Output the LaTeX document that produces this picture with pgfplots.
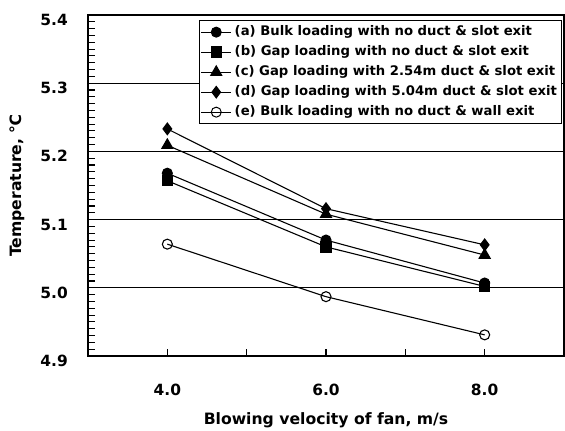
\documentclass[border=0pt]{standalone}
\usepackage{pgfplots}
\pgfplotsset{compat=1.18}
\usepackage{fontspec}
\setmainfont{DejaVu Sans}
\begin{document}
\begin{tikzpicture}
\begin{axis}[
  name=ax,
  scale only axis, width=476bp, height=341bp,
  xmin=3, xmax=9, ymin=4.9, ymax=5.4,
  xtick={4,5,6,7,8}, xticklabels={4.0,,6.0,,8.0},
  ytick={4.9,5.0,5.1,5.2,5.3,5.4},
  yticklabels={4.9,5.0,5.1,5.2,5.3,5.4},
  minor y tick num=9,
  xtick align=inside, ytick align=inside,
  xtick pos=bottom, ytick pos=left,
  major tick length=7.5bp, minor tick length=6.5bp,
  every tick/.style={black, line width=1.1pt},
  ymajorgrids, grid style={black, line width=1.1pt},
  axis line style={line width=1.5pt},
  /pgf/number format/assume math mode=true,
  ticklabel style={font=\bfseries\fontsize{15.5}{17}\selectfont, inner sep=0pt},
  yticklabel style={anchor=base east, xshift=-20bp, yshift=-10.5bp},
  xticklabel style={anchor=base, yshift=-39bp},
  xlabel={Blowing velocity of fan, m/s},
  ylabel={Temperature, ℃},
  label style={font=\bfseries\fontsize{15.7}{17}\selectfont},
  xlabel style={at={(axis description cs:0.5,-0.1994)}, anchor=base},
  ylabel style={at={(axis description cs:-0.1492,0.5)}, anchor=center},
  legend style={at={(0.9958,0.9853)}, anchor=north east, draw=black, line width=1.3pt,
    font=\bfseries\fontsize{13.25}{15}\selectfont, row sep=0pt, inner sep=1.5bp,
    nodes={inner sep=3bp, text height=10.5bp, text depth=3.5bp},
    cells={anchor=west}},
  legend image code/.code={\draw[mark repeat=2,mark phase=2,line width=1pt] plot coordinates {(0bp,0bp)(15bp,0bp)(30bp,0bp)};},
  every axis plot/.append style={black, line width=1.1pt},
]
\addplot[mark=*, mark size=5bp] coordinates {(4,5.168) (6,5.070) (8,5.007)};
\addlegendentry{(a) Bulk loading with no duct \& slot exit}
\addplot[mark=square*, mark size=5.2bp] coordinates {(4,5.157) (6,5.060) (8,5.002)};
\addlegendentry{(b) Gap loading with no duct \& slot exit}
\addplot[mark=triangle*, mark size=6.3bp] coordinates {(4,5.209) (6,5.108) (8,5.048)};
\addlegendentry{(c) Gap loading with 2.54m duct \& slot exit}
\addplot[mark=diamond*, mark size=5.8bp] coordinates {(4,5.233) (6,5.116) (8,5.063)};
\addlegendentry{(d) Gap loading with 5.04m duct \& slot exit}
\addplot[mark=o, mark size=5bp, mark options={fill=white}] coordinates {(4,5.064) (6,4.987) (8,4.931)};
\addlegendentry{(e) Bulk loading with no duct \& wall exit}
\end{axis}
\pgfresetboundingbox
\path ([shift={(-88bp,-74bp)}]ax.south west) rectangle ([shift={(1bp,15bp)}]ax.north east);
\end{tikzpicture}
\end{document}
